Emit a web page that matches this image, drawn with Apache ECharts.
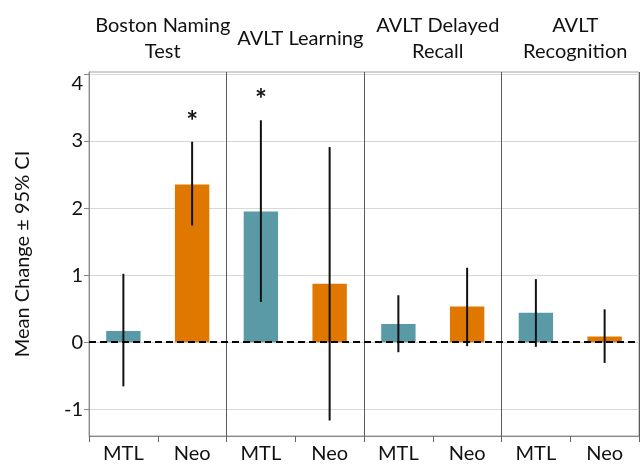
<!DOCTYPE html>
<html><head><meta charset="utf-8">
<script src="https://cdn.jsdelivr.net/npm/echarts@6/dist/echarts.min.js"></script>
<style>html,body{margin:0;padding:0;background:#fff}#c{width:640px;height:464px}</style>
</head><body><div id="c"></div>
<script>
const panels = ['Boston Naming\nTest', 'AVLT Learning', 'AVLT Delayed\nRecall', 'AVLT\nRecognition'];
const groups = ['MTL', 'Neo'];
const categories = ['MTL', 'Neo', 'MTL', 'Neo', 'MTL', 'Neo', 'MTL', 'Neo'];
const means = [0.165, 2.35, 1.95, 0.87, 0.27, 0.53, 0.44, 0.085];
const ciLow = [-0.66, 1.74, 0.60, -1.17, -0.15, -0.06, -0.07, -0.31];
const ciHigh = [1.02, 2.99, 3.31, 2.91, 0.70, 1.11, 0.94, 0.49];
const significant = [false, true, true, false, false, false, false, false];
const yTicks = [-1, 0, 1, 2, 3, 4];

const colors = { MTL: '#5a9aa7', Neo: '#e07800' };
const font = 'Lato, "Open Sans", sans-serif';
const chart = echarts.init(document.getElementById('c'), null, { renderer: 'canvas' });

const gridLeft = 89, gridRight = 1, plotW = 640 - gridLeft - gridRight;
const titles = panels.map((p, i) => ({
  text: p,
  left: gridLeft + plotW * (i + 0.5) / panels.length,
  top: p.indexOf('\n') >= 0 ? 8 : 21,
  textAlign: 'center',
  textStyle: { fontFamily: font, fontSize: 20, fontWeight: 'normal', color: '#111', lineHeight: 26 }
}));

chart.setOption({
  animation: false,
  title: titles,
  grid: { left: gridLeft, right: gridRight, top: 72, bottom: 28, show: true, borderColor: '#a0a0a0', borderWidth: 1 },
  xAxis: {
    type: 'category', data: categories,
    axisLine: { lineStyle: { color: '#888', width: 1 }, onZero: false },
    axisTick: { show: true, length: 6, lineStyle: { color: '#666' } },
    axisLabel: { fontFamily: font, fontSize: 20, color: '#111', margin: 8 },
    splitLine: { show: true, interval: (idx) => idx % 2 === 0, lineStyle: { color: '#5a5a5a', width: 1 } }
  },
  yAxis: {
    type: 'value', min: -1.4, max: 4.03,
    name: 'Mean Change ± 95% CI', nameLocation: 'middle', nameGap: 56,
    nameTextStyle: { fontFamily: font, fontSize: 20, color: '#111' },
    axisLine: { show: true, lineStyle: { color: '#888' } },
    axisTick: { show: true, customValues: yTicks, length: 5, lineStyle: { color: '#888' } },
    axisLabel: {
      customValues: yTicks, fontFamily: font, fontSize: 20, color: '#111', margin: 6,
      formatter: (v) => v === 4 ? '{t|4}' : String(v),
      rich: { t: { fontFamily: font, fontSize: 20, color: '#111', padding: [20, 0, 0, 0] } }
    },
    splitLine: { show: true, lineStyle: { color: '#d8d8d8' } }
  },
  series: [
    {
      type: 'bar', barWidth: '50%',
      data: means.map((v, i) => ({ value: v, itemStyle: { color: colors[categories[i]] } })),
      markLine: {
        silent: true, symbol: 'none', label: { show: false },
        lineStyle: { color: '#000', type: [7, 4], width: 2 },
        data: [{ yAxis: 0 }], z: 10
      }
    },
    {
      type: 'custom', z: 5,
      data: means.map((v, i) => [i, ciLow[i], ciHigh[i], significant[i] ? 1 : 0]),
      renderItem: (params, api) => {
        const i = api.value(0);
        const lo = api.coord([i, api.value(1)]);
        const hi = api.coord([i, api.value(2)]);
        const children = [{
          type: 'line', shape: { x1: lo[0], y1: lo[1], x2: hi[0], y2: hi[1] },
          style: { stroke: '#111', lineWidth: 2 }
        }];
        if (api.value(3)) {
          children.push({
            type: 'text', x: hi[0], y: hi[1] - 20,
            style: { text: '*', fontSize: 28, fontWeight: 'bold', fontFamily: font, fill: '#111', align: 'center', verticalAlign: 'middle' }
          });
        }
        return { type: 'group', children };
      }
    }
  ]
});
</script></body></html>
